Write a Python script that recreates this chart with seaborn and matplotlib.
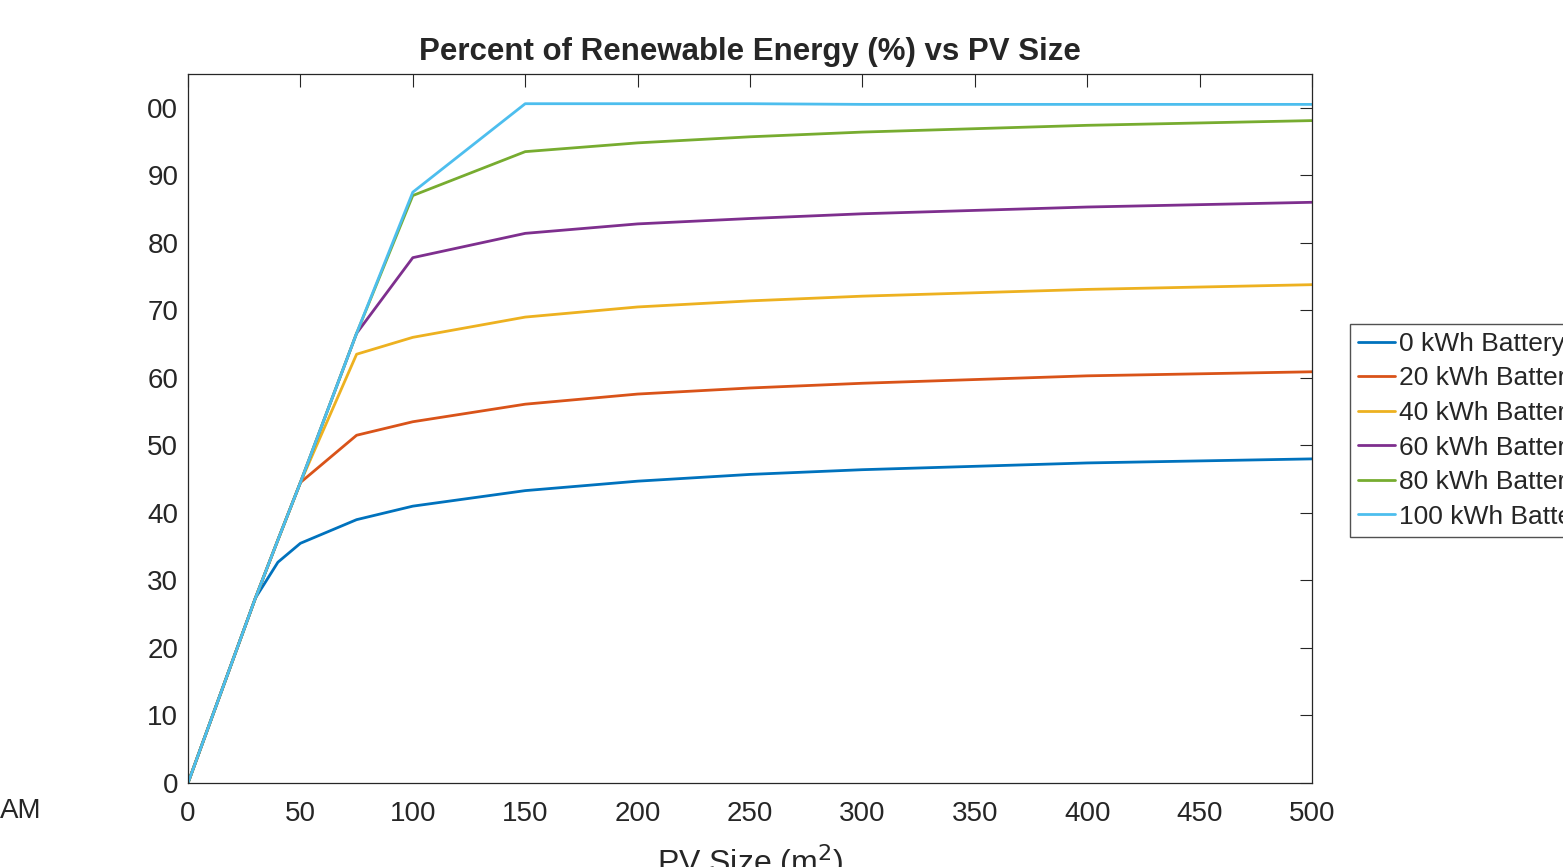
import numpy as np
import pandas as pd
import matplotlib
matplotlib.use("Agg")
import matplotlib.pyplot as plt
import seaborn as sns

# ========== Data ==========
pv_size = [0, 30, 40, 50, 75, 100, 150, 200, 250, 300, 400, 500]

batt_0 = [0, 27.4, 32.7, 35.5, 39.0, 41.0, 43.3, 44.7, 45.7, 46.4, 47.4, 48.0]
batt_20 = [0, 27.4, 36.0, 44.5, 51.5, 53.5, 56.1, 57.6, 58.5, 59.2, 60.3, 60.9]
batt_40 = [0, 27.4, 36.0, 44.5, 63.5, 66.0, 69.0, 70.5, 71.4, 72.1, 73.1, 73.8]
batt_60 = [0, 27.4, 36.0, 44.5, 66.6, 77.8, 81.4, 82.8, 83.6, 84.3, 85.3, 86.0]
batt_80 = [0, 27.4, 36.0, 44.5, 66.6, 87.0, 93.5, 94.8, 95.7, 96.4, 97.4, 98.1]
batt_100 = [0, 27.4, 36.0, 44.5, 66.6, 87.5, 100.6, 100.6, 100.6, 100.5, 100.5, 100.5]

labels = ["0 kWh Battery", "20 kWh Battery", "40 kWh Battery",
          "60 kWh Battery", "80 kWh Battery", "100 kWh Battery"]
series = [batt_0, batt_20, batt_40, batt_60, batt_80, batt_100]
colors = ["#0072BD", "#D95319", "#EDB120", "#7E2F8E", "#77AC30", "#4DBEEE"]

x_ticks = list(range(0, 501, 50))
y_ticks = list(range(0, 101, 10))
y_tick_labels = [str(v) for v in y_ticks[:-1]] + ["00"]

df = pd.DataFrame({
    "PV": np.tile(pv_size, len(series)),
    "RE": np.concatenate(series),
    "Battery": np.repeat(labels, len(pv_size)),
})

# ========== Plot ==========
sns.set_style("white")
plt.rcParams["font.family"] = ["Liberation Sans", "DejaVu Sans"]

fig = plt.figure(figsize=(15.63, 8.67), dpi=100)
ax = fig.add_axes([188 / 1563, 84 / 867, 1124 / 1563, 709 / 867])

sns.lineplot(data=df, x="PV", y="RE", hue="Battery", hue_order=labels,
             palette=colors, linewidth=2, ax=ax, legend=True)

ax.set_xlim(0, 500)
ax.set_ylim(0, 105)
ax.set_xticks(x_ticks)
ax.set_yticks(y_ticks)
ax.set_yticklabels(y_tick_labels)
ax.tick_params(direction="in", length=9, width=0.8, colors="#262626",
               labelsize=20, top=True, right=True)
ax.tick_params(axis="x", pad=13)
ax.tick_params(axis="y", pad=7)
for sp in ax.spines.values():
    sp.set_color("#262626")
    sp.set_linewidth(0.9)
ax.set_xlabel("")
ax.set_ylabel("")
ax.set_title("Percent of Renewable Energy (%) vs PV Size",
             fontsize=22.5, fontweight="bold", pad=10)

# x label sits partly below the bottom edge, as in the reference
fig.text(750 / 1563, 1 - 842 / 867, "PV Size (m$^2$)", fontsize=23,
         ha="center", va="top", color="#262626")
fig.text(0, 1 - 811 / 867, "AM", fontsize=20, ha="left", va="center",
         color="#262626")

handles, _ = ax.get_legend_handles_labels()
ax.legend(handles, labels, loc="upper left",
          bbox_to_anchor=(1350 / 1563, 1 - 324 / 867),
          bbox_transform=fig.transFigure, fontsize=19, frameon=True,
          fancybox=False, edgecolor="#262626", handlelength=1.4,
          handletextpad=0.15, labelspacing=0.4, borderpad=0.3,
          borderaxespad=0)

fig.savefig("out.png", dpi=100)
